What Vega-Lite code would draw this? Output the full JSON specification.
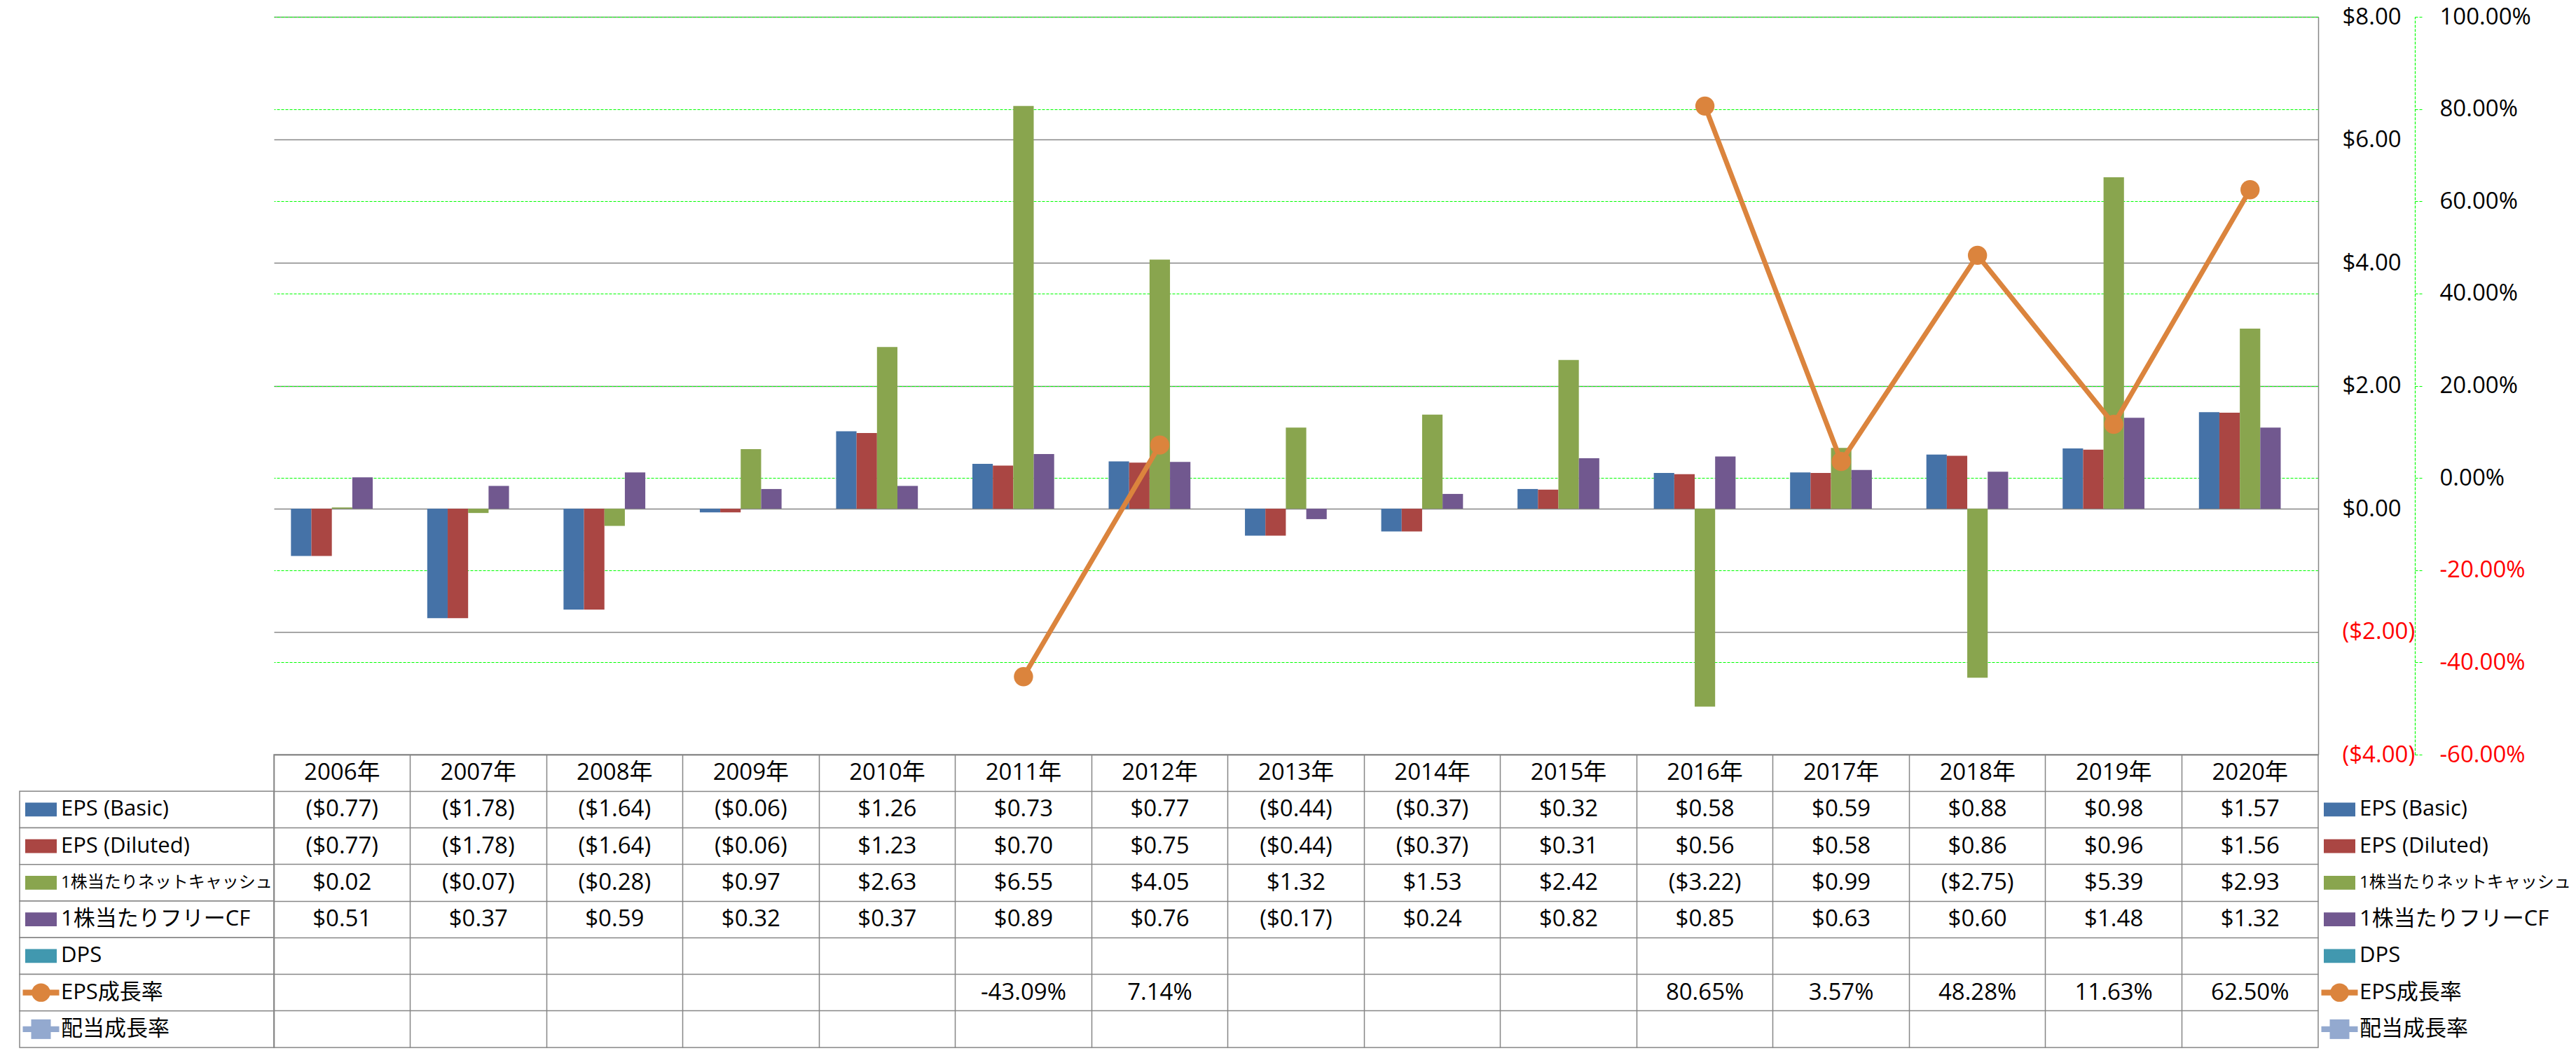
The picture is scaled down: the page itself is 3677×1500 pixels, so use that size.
{
  "$schema": "https://vega.github.io/schema/vega-lite/v6.json",
  "autosize": {"type": "pad"},
  "padding": {"left": 27, "top": 8, "right": 0, "bottom": 0},
  "background": "white",
  "columns": 3,
  "spacing": 0,
  "bounds": "flush",
  "config": {
    "view": {"stroke": null},
    "font": "'Open Sans', 'Noto Sans CJK JP', sans-serif",
    "text": {"font": "'Open Sans', 'Noto Sans CJK JP', sans-serif"}
  },
  "datasets": {
    "eps": [
      {"year": "2006年", "series": "EPS (Basic)", "value": -0.77},
      {"year": "2007年", "series": "EPS (Basic)", "value": -1.78},
      {"year": "2008年", "series": "EPS (Basic)", "value": -1.64},
      {"year": "2009年", "series": "EPS (Basic)", "value": -0.06},
      {"year": "2010年", "series": "EPS (Basic)", "value": 1.26},
      {"year": "2011年", "series": "EPS (Basic)", "value": 0.73},
      {"year": "2012年", "series": "EPS (Basic)", "value": 0.77},
      {"year": "2013年", "series": "EPS (Basic)", "value": -0.44},
      {"year": "2014年", "series": "EPS (Basic)", "value": -0.37},
      {"year": "2015年", "series": "EPS (Basic)", "value": 0.32},
      {"year": "2016年", "series": "EPS (Basic)", "value": 0.58},
      {"year": "2017年", "series": "EPS (Basic)", "value": 0.59},
      {"year": "2018年", "series": "EPS (Basic)", "value": 0.88},
      {"year": "2019年", "series": "EPS (Basic)", "value": 0.98},
      {"year": "2020年", "series": "EPS (Basic)", "value": 1.57},
      {"year": "2006年", "series": "EPS (Diluted)", "value": -0.77},
      {"year": "2007年", "series": "EPS (Diluted)", "value": -1.78},
      {"year": "2008年", "series": "EPS (Diluted)", "value": -1.64},
      {"year": "2009年", "series": "EPS (Diluted)", "value": -0.06},
      {"year": "2010年", "series": "EPS (Diluted)", "value": 1.23},
      {"year": "2011年", "series": "EPS (Diluted)", "value": 0.70},
      {"year": "2012年", "series": "EPS (Diluted)", "value": 0.75},
      {"year": "2013年", "series": "EPS (Diluted)", "value": -0.44},
      {"year": "2014年", "series": "EPS (Diluted)", "value": -0.37},
      {"year": "2015年", "series": "EPS (Diluted)", "value": 0.31},
      {"year": "2016年", "series": "EPS (Diluted)", "value": 0.56},
      {"year": "2017年", "series": "EPS (Diluted)", "value": 0.58},
      {"year": "2018年", "series": "EPS (Diluted)", "value": 0.86},
      {"year": "2019年", "series": "EPS (Diluted)", "value": 0.96},
      {"year": "2020年", "series": "EPS (Diluted)", "value": 1.56},
      {"year": "2006年", "series": "1株当たりネットキャッシュ", "value": 0.02},
      {"year": "2007年", "series": "1株当たりネットキャッシュ", "value": -0.07},
      {"year": "2008年", "series": "1株当たりネットキャッシュ", "value": -0.28},
      {"year": "2009年", "series": "1株当たりネットキャッシュ", "value": 0.97},
      {"year": "2010年", "series": "1株当たりネットキャッシュ", "value": 2.63},
      {"year": "2011年", "series": "1株当たりネットキャッシュ", "value": 6.55},
      {"year": "2012年", "series": "1株当たりネットキャッシュ", "value": 4.05},
      {"year": "2013年", "series": "1株当たりネットキャッシュ", "value": 1.32},
      {"year": "2014年", "series": "1株当たりネットキャッシュ", "value": 1.53},
      {"year": "2015年", "series": "1株当たりネットキャッシュ", "value": 2.42},
      {"year": "2016年", "series": "1株当たりネットキャッシュ", "value": -3.22},
      {"year": "2017年", "series": "1株当たりネットキャッシュ", "value": 0.99},
      {"year": "2018年", "series": "1株当たりネットキャッシュ", "value": -2.75},
      {"year": "2019年", "series": "1株当たりネットキャッシュ", "value": 5.39},
      {"year": "2020年", "series": "1株当たりネットキャッシュ", "value": 2.93},
      {"year": "2006年", "series": "1株当たりフリーCF", "value": 0.51},
      {"year": "2007年", "series": "1株当たりフリーCF", "value": 0.37},
      {"year": "2008年", "series": "1株当たりフリーCF", "value": 0.59},
      {"year": "2009年", "series": "1株当たりフリーCF", "value": 0.32},
      {"year": "2010年", "series": "1株当たりフリーCF", "value": 0.37},
      {"year": "2011年", "series": "1株当たりフリーCF", "value": 0.89},
      {"year": "2012年", "series": "1株当たりフリーCF", "value": 0.76},
      {"year": "2013年", "series": "1株当たりフリーCF", "value": -0.17},
      {"year": "2014年", "series": "1株当たりフリーCF", "value": 0.24},
      {"year": "2015年", "series": "1株当たりフリーCF", "value": 0.82},
      {"year": "2016年", "series": "1株当たりフリーCF", "value": 0.85},
      {"year": "2017年", "series": "1株当たりフリーCF", "value": 0.63},
      {"year": "2018年", "series": "1株当たりフリーCF", "value": 0.60},
      {"year": "2019年", "series": "1株当たりフリーCF", "value": 1.48},
      {"year": "2020年", "series": "1株当たりフリーCF", "value": 1.32},
      {"year": "2006年", "series": "EPS成長率", "value": null},
      {"year": "2007年", "series": "EPS成長率", "value": null},
      {"year": "2008年", "series": "EPS成長率", "value": null},
      {"year": "2009年", "series": "EPS成長率", "value": null},
      {"year": "2010年", "series": "EPS成長率", "value": null},
      {"year": "2011年", "series": "EPS成長率", "value": -43.09},
      {"year": "2012年", "series": "EPS成長率", "value": 7.14},
      {"year": "2013年", "series": "EPS成長率", "value": null},
      {"year": "2014年", "series": "EPS成長率", "value": null},
      {"year": "2015年", "series": "EPS成長率", "value": null},
      {"year": "2016年", "series": "EPS成長率", "value": 80.65},
      {"year": "2017年", "series": "EPS成長率", "value": 3.57},
      {"year": "2018年", "series": "EPS成長率", "value": 48.28},
      {"year": "2019年", "series": "EPS成長率", "value": 11.63},
      {"year": "2020年", "series": "EPS成長率", "value": 62.50}
    ],
    "series": [
      {"series": "EPS (Basic)"},
      {"series": "EPS (Diluted)"},
      {"series": "1株当たりネットキャッシュ"},
      {"series": "1株当たりフリーCF"},
      {"series": "DPS"},
      {"series": "EPS成長率"},
      {"series": "配当成長率"}
    ]
  },
  "concat": [
    {"width": 363, "height": 1053, "data": {"values": []}, "mark": "point"},
    {
      "width": 2918,
      "height": 1053,
      "data": {"name": "eps"},
      "layer": [
        {
          "transform": [{"filter": {"field": "series", "oneOf": ["EPS (Basic)", "EPS (Diluted)", "1株当たりネットキャッシュ", "1株当たりフリーCF"]}}],
          "mark": {"type": "bar"},
          "encoding": {
            "x": {"field": "year", "type": "nominal", "scale": {"type": "band", "domain": ["2006年","2007年","2008年","2009年","2010年","2011年","2012年","2013年","2014年","2015年","2016年","2017年","2018年","2019年","2020年"], "paddingInner": 0.25, "paddingOuter": 0.125}, "axis": null},
            "xOffset": {"field": "series", "type": "nominal", "scale": {"domain": ["EPS (Basic)", "EPS (Diluted)", "1株当たりネットキャッシュ", "1株当たりフリーCF", "DPS"], "paddingInner": 0, "paddingOuter": 0}},
            "y": {
              "field": "value", "type": "quantitative",
              "scale": {"domain": [-4, 8], "nice": false, "zero": false},
              "axis": {
                "orient": "right", "values": [-4, -2, 0, 2, 4, 6, 8], "title": null,
                "grid": true, "gridColor": "#868686", "gridWidth": 1.5,
                "domain": true, "domainColor": "#868686", "domainWidth": 1.5,
                "ticks": false, "tickSize": 0, "labelPadding": 34,
                "labelFontSize": 33, "labelAlign": "left", "labelBaseline": "middle",
                "labelColor": {"condition": {"test": "datum.value < 0", "value": "#FF0000"}, "value": "#000000"},
                "labelExpr": "datum.value < 0 ? '($' + format(-datum.value, '.2f') + ')' : '$' + format(datum.value, '.2f')"
              }
            },
            "color": {"field": "series", "type": "nominal", "scale": {"domain": ["EPS (Basic)", "EPS (Diluted)", "1株当たりネットキャッシュ", "1株当たりフリーCF", "DPS", "EPS成長率", "配当成長率"], "range": ["#4572A7", "#AA4643", "#89A54E", "#71588F", "#4198AF", "#DB843D", "#93A9CF"]}, "legend": null}
          }
        },
        {
          "transform": [{"filter": "datum.series === 'EPS成長率'"}],
          "encoding": {
            "x": {"field": "year", "type": "nominal", "scale": {"type": "band", "domain": ["2006年","2007年","2008年","2009年","2010年","2011年","2012年","2013年","2014年","2015年","2016年","2017年","2018年","2019年","2020年"], "paddingInner": 0.25, "paddingOuter": 0.125}, "axis": null},
            "y": {
              "field": "value", "type": "quantitative",
              "scale": {"domain": [-60, 100], "nice": false, "zero": false},
              "axis": {
                "orient": "right", "offset": 138, "values": [-60, -40, -20, 0, 20, 40, 60, 80, 100], "title": null,
                "grid": true, "gridColor": "#00FF00", "gridDash": [4, 2], "gridWidth": 1.2,
                "domain": true, "domainColor": "#00FF00", "domainDash": [4, 2], "domainWidth": 1.2,
                "ticks": true, "tickColor": "#00FF00", "tickDash": [4, 2], "tickWidth": 1.2, "tickSize": 12,
                "labelPadding": 23, "labelFontSize": 33, "labelAlign": "left", "labelBaseline": "middle",
                "labelColor": {"condition": {"test": "datum.value < 0", "value": "#FF0000"}, "value": "#000000"},
                "labelExpr": "(datum.value < 0 ? '-' : '') + format(abs(datum.value), '.2f') + '%'"
              }
            }
          },
          "layer": [
            {"mark": {"type": "line", "color": "#DB843D", "strokeWidth": 7, "invalid": "break-paths-filter-domains"}},
            {"mark": {"type": "point", "shape": "circle", "filled": true, "size": 750, "color": "#DB843D", "opacity": 1}}
          ]
        }
      ],
      "resolve": {"scale": {"y": "independent"}}
    },
    {"width": 365, "height": 1053, "data": {"values": []}, "mark": "point"},
    {
      "width": 363,
      "height": 418,
      "data": {"name": "series"},
      "encoding": {
        "y": {"field": "series", "type": "nominal", "scale": {"type": "band", "domain": ["header", "EPS (Basic)", "EPS (Diluted)", "1株当たりネットキャッシュ", "1株当たりフリーCF", "DPS", "EPS成長率", "配当成長率"], "paddingInner": 0, "paddingOuter": 0}, "axis": null}
      },
      "layer": [
        {
          "mark": {"type": "rect", "fill": "white", "stroke": "#868686", "strokeWidth": 1.5},
          "encoding": {"x": {"value": 0}, "x2": {"value": "width"}}
        },
        {
          "transform": [{"filter": {"field": "series", "oneOf": ["EPS (Basic)", "EPS (Diluted)", "1株当たりネットキャッシュ", "1株当たりフリーCF", "DPS"]}}],
          "mark": {"type": "point", "shape": "M-1,-0.444H1V0.444H-1Z", "size": 2025, "filled": true, "opacity": 1},
          "encoding": {
            "x": {"datum": "key", "type": "nominal", "scale": {"type": "point", "domain": ["key", "name"], "range": [30.5, 59], "padding": 0}, "axis": null},
            "color": {"field": "series", "type": "nominal", "scale": {"domain": ["EPS (Basic)", "EPS (Diluted)", "1株当たりネットキャッシュ", "1株当たりフリーCF", "DPS", "EPS成長率", "配当成長率"], "range": ["#4572A7", "#AA4643", "#89A54E", "#71588F", "#4198AF", "#DB843D", "#93A9CF"]}, "legend": null}
          }
        },
        {
          "transform": [{"filter": {"field": "series", "oneOf": ["EPS成長率", "配当成長率"]}}],
          "mark": {"type": "point", "shape": "M-1,-0.154H1V0.154H-1Z", "size": 2704, "filled": true, "opacity": 1},
          "encoding": {
            "x": {"datum": "key", "type": "nominal", "scale": {"type": "point", "domain": ["key", "name"], "range": [30.5, 59], "padding": 0}, "axis": null},
            "color": {"field": "series", "type": "nominal", "scale": {"domain": ["EPS (Basic)", "EPS (Diluted)", "1株当たりネットキャッシュ", "1株当たりフリーCF", "DPS", "EPS成長率", "配当成長率"], "range": ["#4572A7", "#AA4643", "#89A54E", "#71588F", "#4198AF", "#DB843D", "#93A9CF"]}, "legend": null}
          }
        },
        {
          "transform": [{"filter": "datum.series === 'EPS成長率'"}],
          "mark": {"type": "point", "shape": "circle", "size": 700, "filled": true, "opacity": 1},
          "encoding": {
            "x": {"datum": "key", "type": "nominal", "scale": {"type": "point", "domain": ["key", "name"], "range": [30.5, 59], "padding": 0}, "axis": null},
            "color": {"field": "series", "type": "nominal", "scale": {"domain": ["EPS (Basic)", "EPS (Diluted)", "1株当たりネットキャッシュ", "1株当たりフリーCF", "DPS", "EPS成長率", "配当成長率"], "range": ["#4572A7", "#AA4643", "#89A54E", "#71588F", "#4198AF", "#DB843D", "#93A9CF"]}, "legend": null}
          }
        },
        {
          "transform": [{"filter": "datum.series === '配当成長率'"}],
          "mark": {"type": "point", "shape": "square", "size": 784, "filled": true, "opacity": 1},
          "encoding": {
            "x": {"datum": "key", "type": "nominal", "scale": {"type": "point", "domain": ["key", "name"], "range": [30.5, 59], "padding": 0}, "axis": null},
            "color": {"field": "series", "type": "nominal", "scale": {"domain": ["EPS (Basic)", "EPS (Diluted)", "1株当たりネットキャッシュ", "1株当たりフリーCF", "DPS", "EPS成長率", "配当成長率"], "range": ["#4572A7", "#AA4643", "#89A54E", "#71588F", "#4198AF", "#DB843D", "#93A9CF"]}, "legend": null}
          }
        },
        {
          "mark": {"type": "text", "align": "left", "baseline": "middle", "color": "#000000"},
          "encoding": {
            "x": {"datum": "name", "type": "nominal", "scale": {"type": "point", "domain": ["key", "name"], "range": [30.5, 59], "padding": 0}, "axis": null},
            "text": {"field": "series"},
            "size": {"condition": {"test": "datum.series === '1株当たりネットキャッシュ'", "value": 24}, "value": 31}
          }
        }
      ]
    },
    {
      "width": 2918,
      "height": 418,
      "view": {"stroke": "#868686", "strokeWidth": 1.5},
      "data": {"name": "eps"},
      "layer": [
        {
          "transform": [{"filter": "datum.series === 'EPS (Basic)'"}],
          "mark": {"type": "text", "fontSize": 33, "align": "center", "baseline": "middle", "color": "#000000"},
          "encoding": {
            "x": {"field": "year", "type": "nominal", "scale": {"type": "band", "domain": ["2006年","2007年","2008年","2009年","2010年","2011年","2012年","2013年","2014年","2015年","2016年","2017年","2018年","2019年","2020年"], "paddingInner": 0, "paddingOuter": 0}, "axis": {"orient": "bottom", "bandPosition": 0, "grid": true, "gridColor": "#868686", "gridWidth": 1.5, "labels": false, "ticks": false, "domain": false, "title": null}},
            "y": {"datum": "header", "type": "nominal", "scale": {"type": "band", "domain": ["header", "EPS (Basic)", "EPS (Diluted)", "1株当たりネットキャッシュ", "1株当たりフリーCF", "DPS", "EPS成長率", "配当成長率"], "paddingInner": 0, "paddingOuter": 0}, "axis": {"orient": "left", "bandPosition": 0, "grid": true, "gridColor": "#868686", "gridWidth": 1.5, "labels": false, "ticks": false, "domain": false, "title": null}},
            "text": {"field": "year"}
          }
        },
        {
          "transform": [
            {"filter": "isValid(datum.value)"},
            {"calculate": "datum.series === 'EPS成長率' ? ((datum.value < 0 ? '-' : '') + format(abs(datum.value), '.2f') + '%') : (datum.value < 0 ? '($' + format(-datum.value, '.2f') + ')' : '$' + format(datum.value, '.2f'))", "as": "label"}
          ],
          "mark": {"type": "text", "fontSize": 33, "align": "center", "baseline": "middle", "color": "#000000"},
          "encoding": {
            "x": {"field": "year", "type": "nominal", "scale": {"type": "band", "domain": ["2006年","2007年","2008年","2009年","2010年","2011年","2012年","2013年","2014年","2015年","2016年","2017年","2018年","2019年","2020年"], "paddingInner": 0, "paddingOuter": 0}, "axis": {"orient": "bottom", "bandPosition": 0, "grid": true, "gridColor": "#868686", "gridWidth": 1.5, "labels": false, "ticks": false, "domain": false, "title": null}},
            "y": {"field": "series", "type": "nominal", "scale": {"type": "band", "domain": ["header", "EPS (Basic)", "EPS (Diluted)", "1株当たりネットキャッシュ", "1株当たりフリーCF", "DPS", "EPS成長率", "配当成長率"], "paddingInner": 0, "paddingOuter": 0}, "axis": {"orient": "left", "bandPosition": 0, "grid": true, "gridColor": "#868686", "gridWidth": 1.5, "labels": false, "ticks": false, "domain": false, "title": null}},
            "text": {"field": "label"}
          }
        }
      ]
    },
    {
      "width": 365,
      "height": 418,
      "data": {"name": "series"},
      "encoding": {
        "y": {"field": "series", "type": "nominal", "scale": {"type": "band", "domain": ["header", "EPS (Basic)", "EPS (Diluted)", "1株当たりネットキャッシュ", "1株当たりフリーCF", "DPS", "EPS成長率", "配当成長率"], "paddingInner": 0, "paddingOuter": 0}, "axis": null}
      },
      "layer": [
        {
          "transform": [{"filter": {"field": "series", "oneOf": ["EPS (Basic)", "EPS (Diluted)", "1株当たりネットキャッシュ", "1株当たりフリーCF", "DPS"]}}],
          "mark": {"type": "point", "shape": "M-1,-0.444H1V0.444H-1Z", "size": 2025, "filled": true, "opacity": 1},
          "encoding": {
            "x": {"datum": "key", "type": "nominal", "scale": {"type": "point", "domain": ["key", "name"], "range": [30.5, 59], "padding": 0}, "axis": null},
            "color": {"field": "series", "type": "nominal", "scale": {"domain": ["EPS (Basic)", "EPS (Diluted)", "1株当たりネットキャッシュ", "1株当たりフリーCF", "DPS", "EPS成長率", "配当成長率"], "range": ["#4572A7", "#AA4643", "#89A54E", "#71588F", "#4198AF", "#DB843D", "#93A9CF"]}, "legend": null}
          }
        },
        {
          "transform": [{"filter": {"field": "series", "oneOf": ["EPS成長率", "配当成長率"]}}],
          "mark": {"type": "point", "shape": "M-1,-0.154H1V0.154H-1Z", "size": 2704, "filled": true, "opacity": 1},
          "encoding": {
            "x": {"datum": "key", "type": "nominal", "scale": {"type": "point", "domain": ["key", "name"], "range": [30.5, 59], "padding": 0}, "axis": null},
            "color": {"field": "series", "type": "nominal", "scale": {"domain": ["EPS (Basic)", "EPS (Diluted)", "1株当たりネットキャッシュ", "1株当たりフリーCF", "DPS", "EPS成長率", "配当成長率"], "range": ["#4572A7", "#AA4643", "#89A54E", "#71588F", "#4198AF", "#DB843D", "#93A9CF"]}, "legend": null}
          }
        },
        {
          "transform": [{"filter": "datum.series === 'EPS成長率'"}],
          "mark": {"type": "point", "shape": "circle", "size": 700, "filled": true, "opacity": 1},
          "encoding": {
            "x": {"datum": "key", "type": "nominal", "scale": {"type": "point", "domain": ["key", "name"], "range": [30.5, 59], "padding": 0}, "axis": null},
            "color": {"field": "series", "type": "nominal", "scale": {"domain": ["EPS (Basic)", "EPS (Diluted)", "1株当たりネットキャッシュ", "1株当たりフリーCF", "DPS", "EPS成長率", "配当成長率"], "range": ["#4572A7", "#AA4643", "#89A54E", "#71588F", "#4198AF", "#DB843D", "#93A9CF"]}, "legend": null}
          }
        },
        {
          "transform": [{"filter": "datum.series === '配当成長率'"}],
          "mark": {"type": "point", "shape": "square", "size": 784, "filled": true, "opacity": 1},
          "encoding": {
            "x": {"datum": "key", "type": "nominal", "scale": {"type": "point", "domain": ["key", "name"], "range": [30.5, 59], "padding": 0}, "axis": null},
            "color": {"field": "series", "type": "nominal", "scale": {"domain": ["EPS (Basic)", "EPS (Diluted)", "1株当たりネットキャッシュ", "1株当たりフリーCF", "DPS", "EPS成長率", "配当成長率"], "range": ["#4572A7", "#AA4643", "#89A54E", "#71588F", "#4198AF", "#DB843D", "#93A9CF"]}, "legend": null}
          }
        },
        {
          "mark": {"type": "text", "align": "left", "baseline": "middle", "color": "#000000"},
          "encoding": {
            "x": {"datum": "name", "type": "nominal", "scale": {"type": "point", "domain": ["key", "name"], "range": [30.5, 59], "padding": 0}, "axis": null},
            "text": {"field": "series"},
            "size": {"condition": {"test": "datum.series === '1株当たりネットキャッシュ'", "value": 24}, "value": 31}
          }
        }
      ]
    }
  ]
}
